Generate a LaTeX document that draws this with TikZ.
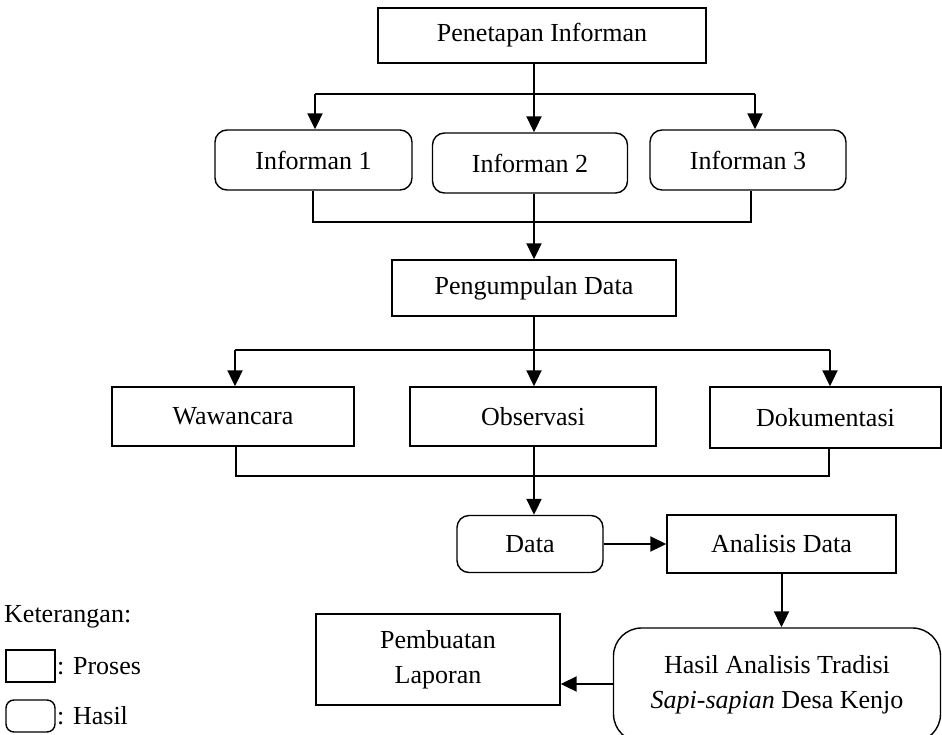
\documentclass[tikz,border=0pt]{standalone}
\usepackage{fontspec}
\setmainfont{Liberation Serif}
\usetikzlibrary{arrows.meta}
\begin{document}
\begin{tikzpicture}[x=1pt,y=-1pt,
  every node/.style={font=\fontsize{26}{35}\selectfont},
  proc/.style={draw,line width=1.4pt,rectangle,inner sep=0pt,align=center},
  res/.style={proc,rounded corners=12pt},
  conn/.style={line width=2pt},
  arr/.style={line width=2pt,-{Triangle[length=16pt,width=15pt]}}]
\useasboundingbox (0,0) rectangle (942,734);
% nodes
\node[proc,minimum width=328pt,minimum height=55pt] (pen) at (542,35.5) {Penetapan Informan};
\node[res,minimum width=197pt,minimum height=60pt] (inf1) at (313.5,160) {Informan 1};
\node[res,minimum width=195pt,minimum height=60pt] (inf2) at (530,163) {Informan 2};
\node[res,minimum width=196pt,minimum height=60pt] (inf3) at (748,160) {Informan 3};
\node[proc,minimum width=284pt,minimum height=56pt] (pd) at (534,288) {Pengumpulan Data};
\node[proc,minimum width=242pt,minimum height=59pt] (waw) at (233,416.5) {Wawancara};
\node[proc,minimum width=246pt,minimum height=59pt] (obs) at (533,416.5) {Observasi};
\node[proc,minimum width=231pt,minimum height=61pt] (dok) at (825.5,417.5) {Dokumentasi};
\node[res,minimum width=146pt,minimum height=57pt] (data) at (530,544) {Data};
\node[proc,minimum width=229pt,minimum height=58pt] (ana) at (781.5,544) {Analisis Data};
\node[res,rounded corners=28pt,minimum width=327pt,minimum height=114pt] (hasil) at (777,685) {Hasil Analisis Tradisi\\\textit{Sapi-sapian} Desa Kenjo};
\node[proc,minimum width=244pt,minimum height=91pt] (lap) at (438,659.5) {Pembuatan\\Laporan};
% legend
\node[anchor=west,inner sep=0pt] (ket) at (4,617) {Keterangan:};
\node[proc,minimum width=49pt,minimum height=32pt] (lg1) at (30.5,666) {};
\node[anchor=west,inner sep=0pt] (lg1t) at (57,666) {: Proses};
\node[res,rounded corners=8pt,minimum width=49pt,minimum height=32pt] (lg2) at (30.5,716) {};
\node[anchor=west,inner sep=0pt] (lg2t) at (57,716) {: Hasil};
% connectors
\coordinate (c0) at (534,94);
\coordinate (a1) at (315,94);
\coordinate (a3) at (755,94);
\draw[conn] (pen.south -| c0) -- (c0);
\draw[conn] (a1) -- (a3);
\draw[arr] (a1) -- (a1 |- inf1.north);
\draw[arr] (c0) -- (c0 |- inf2.north);
\draw[arr] (a3) -- (a3 |- inf3.north);
\coordinate (b1) at (313,222);
\coordinate (b3) at (751,222);
\draw[conn] (b1 |- inf1.south) -- (b1) -- (b3) -- (b3 |- inf3.south);
\draw[arr] (inf2.south -| c0) -- (c0 |- pd.north);
\coordinate (c1) at (534,350);
\coordinate (d1) at (235,350);
\coordinate (d3) at (830,350);
\draw[conn] (pd.south -| c1) -- (c1);
\draw[conn] (d1) -- (d3);
\draw[arr] (d1) -- (d1 |- waw.north);
\draw[arr] (c1) -- (c1 |- obs.north);
\draw[arr] (d3) -- (d3 |- dok.north);
\coordinate (e1) at (236,476);
\coordinate (e3) at (829,476);
\draw[conn] (e1 |- waw.south) -- (e1) -- (e3) -- (e3 |- dok.south);
\draw[arr] (obs.south -| c1) -- (c1 |- data.north);
\draw[arr] (data.east) -- (ana.west);
\draw[arr] (ana.south) -- (ana.south |- hasil.north);
\coordinate (h) at (600,684);
\draw[arr] (hasil.west |- h) -- (lap.east |- h);
\end{tikzpicture}
\end{document}
